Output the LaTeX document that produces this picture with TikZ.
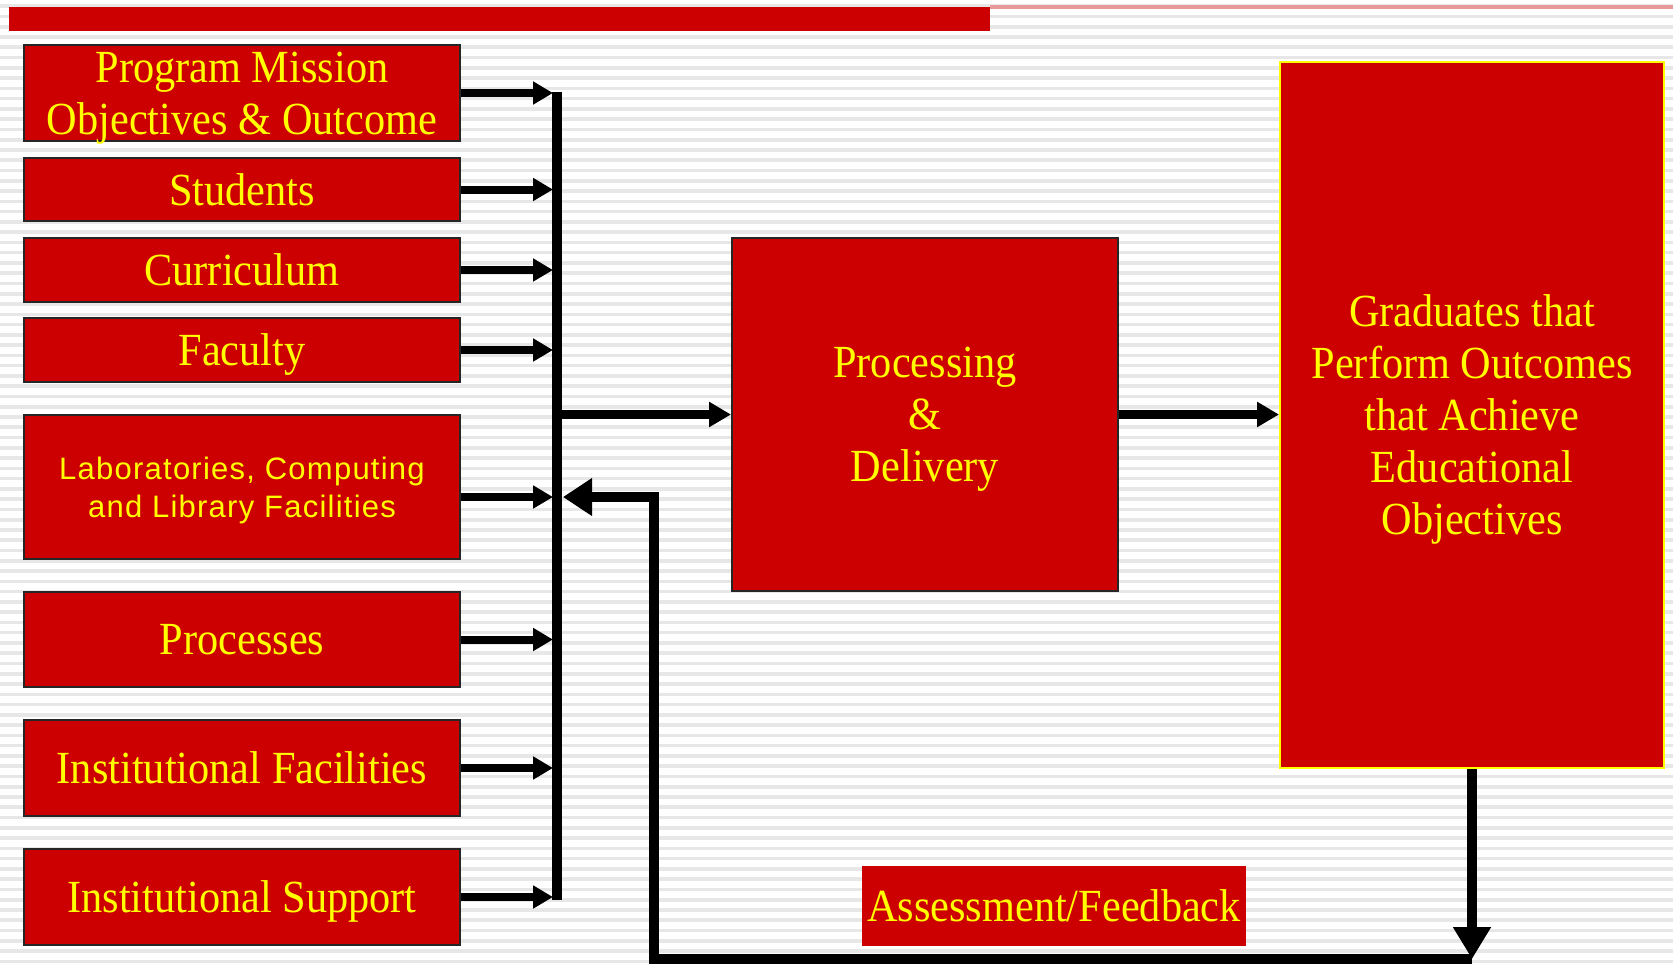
\documentclass[tikz,border=0pt]{standalone}
\usepackage{fontspec}
\setmainfont{Liberation Serif}[FakeStretch=0.92]
\newfontfamily\labfont{Liberation Sans}[LetterSpace=4]
\usetikzlibrary{arrows.meta}
\definecolor{boxred}{HTML}{CC0000}
\definecolor{txtyellow}{HTML}{FFFF00}
\definecolor{stripegray}{HTML}{E7E7E7}
\definecolor{rulepink}{HTML}{E89A9A}

\begin{document}
\begin{tikzpicture}[x=0.5pt,y=-0.5pt,
  redbox/.style={draw=black!85, line width=1pt, fill=boxred, text=txtyellow,
    inner sep=0pt, align=center, text depth=0pt, font=\fontsize{23}{26}\selectfont},
  inbox/.style={redbox, minimum width=218pt},
  inarrow/.style={line width=4pt, -{Triangle[length=10pt,width=11pt]}},
  mainarrow/.style={line width=4.5pt, -{Triangle[length=11pt,width=12pt]}},
  busline/.style={line width=5pt},
  fbline/.style={line width=5pt, line join=miter}
]
% page and striped background
\useasboundingbox (0,0) rectangle (1673,964);
\fill[white] (0,0) rectangle (1673,964);
\foreach \k in {0,...,93}
  \fill[stripegray] (0,{4.4+10.27*\k}) rectangle (1673,{8+10.27*\k});

% title rule
\fill[rulepink] (990,5) rectangle (1673,8.5);
\fill[boxred] (8.5,7) rectangle (990,31);

% input boxes
\node[inbox, minimum height=48pt]   (mission)   at (242,93)    {Program Mission\\Objectives \& Outcome};
\node[inbox, minimum height=31.5pt] (students)  at (242,189.5) {Students};
\node[inbox, minimum height=32pt]   (curric)    at (242,270)   {Curriculum};
\node[inbox, minimum height=32pt]   (faculty)   at (242,350)   {Faculty};
\node[inbox, minimum height=72pt, font=\labfont\fontsize{15.5}{19}\selectfont]
                                    (labs)      at (242,487)   {Laboratories, Computing\\and Library Facilities};
\node[inbox, minimum height=47.5pt] (processes) at (242,639.5) {Processes};
\node[inbox, minimum height=48pt]   (instfac)   at (242,768)   {Institutional Facilities};
\node[inbox, minimum height=48pt]   (instsup)   at (242,897)   {Institutional Support};

% processing, outcome and feedback boxes
\node[redbox, minimum width=193pt, minimum height=176.5pt] (proc) at (925,414.5)
  {Processing\\\&\\Delivery};
\node[redbox, draw=txtyellow, minimum width=192pt, minimum height=353pt] (grad) at (1472,415)
  {Graduates that\\Perform Outcomes\\that Achieve\\Educational\\Objectives};
\node[redbox, draw=none, minimum width=192pt, minimum height=40pt] (assess) at (1054,906)
  {Assessment/Feedback};

% collecting bus
\coordinate (busx)   at (557,0);
\coordinate (busin)  at (553,0);
\coordinate (bustop) at (557,92);
\coordinate (busbot) at (557,900);
\draw[busline] (bustop) -- (busbot);

\foreach \n in {mission,students,curric,faculty,processes,instfac,instsup}
  \draw[inarrow] (\n.east) -- (busin |- \n.east);
\coordinate (labsout) at ([yshift=-5pt]labs.east);
\draw[inarrow] (labsout) -- (busin |- labsout);

% main flow
\draw[mainarrow] (busx |- proc.west) -- (proc.west);
\draw[mainarrow] (proc.east) -- (proc.east -| grad.west);

% feedback loop
\coordinate (fbcorner) at (654,959);
\coordinate (fbentry)  at (563,497);
\draw[fbline, -{Triangle[length=16pt,width=18pt]}] (grad.south) -- (grad.south |- fbcorner);
\draw[fbline, -{Triangle[length=14.5pt,width=18pt]}]
  (grad.south |- fbcorner) -- (fbcorner) -- (fbcorner |- fbentry) -- (fbentry);
\end{tikzpicture}
\end{document}
